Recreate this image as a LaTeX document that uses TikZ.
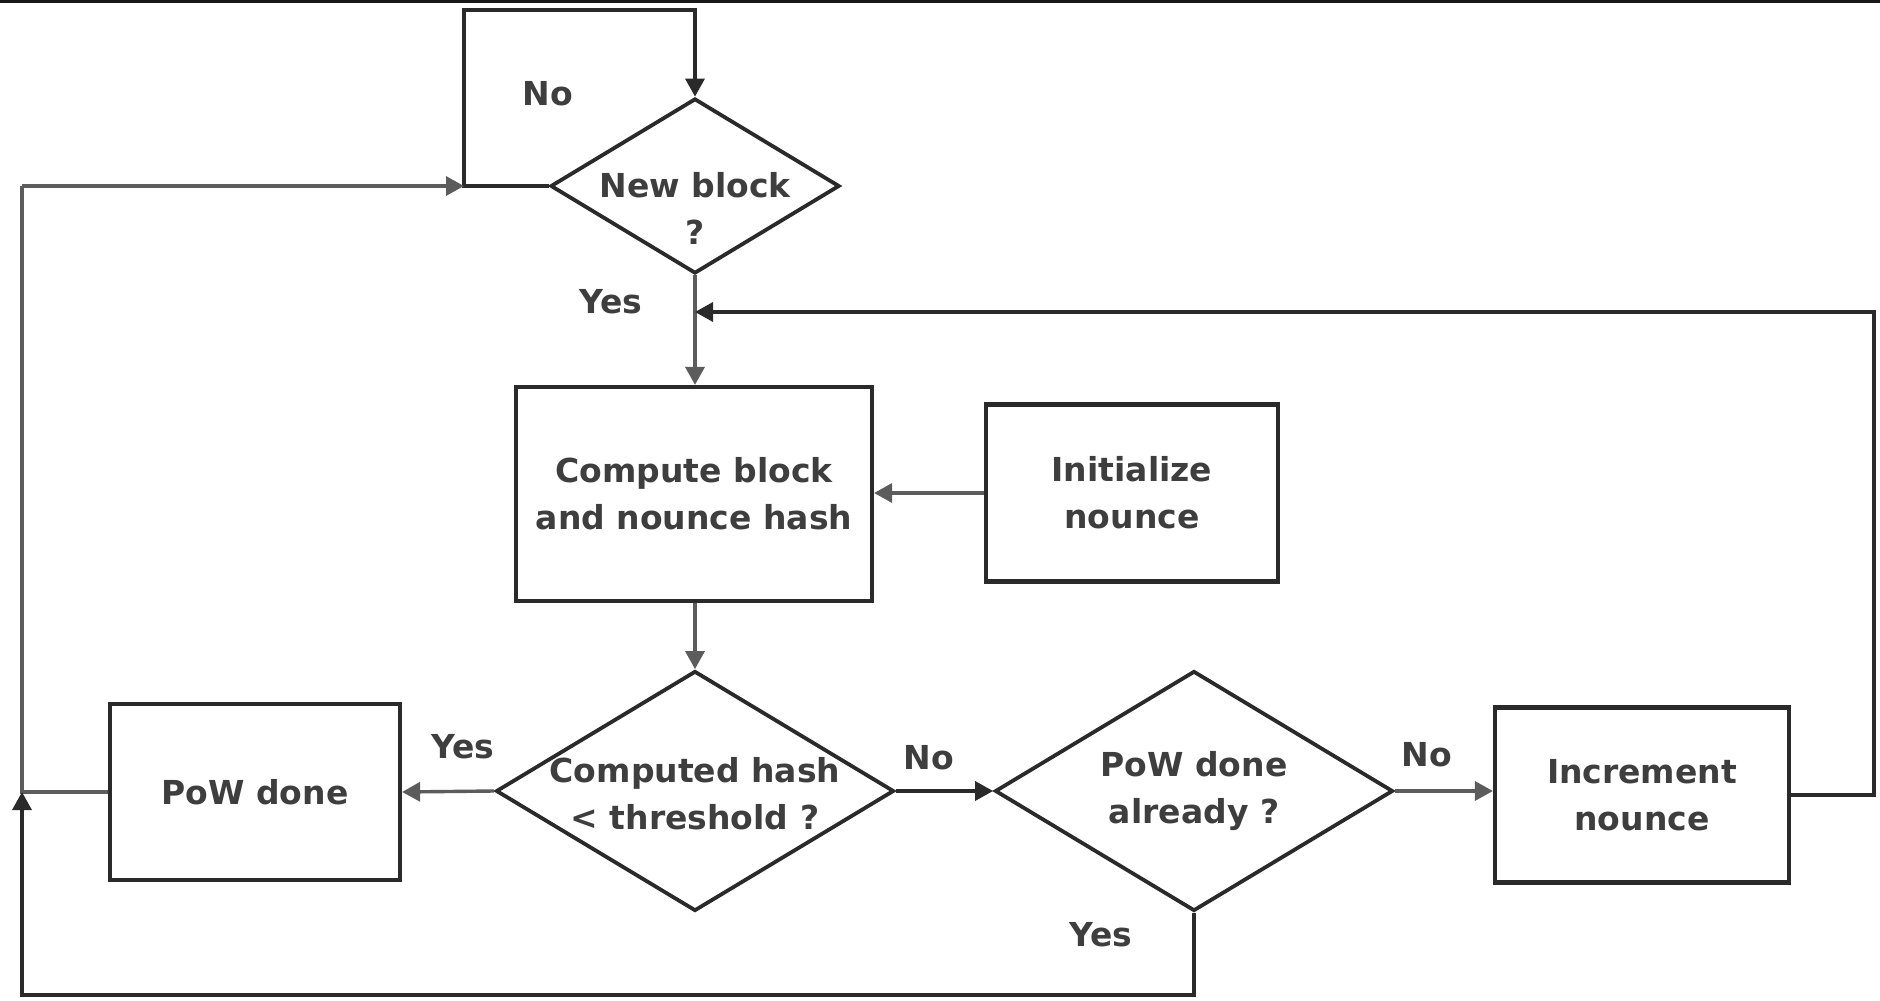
\documentclass[tikz,border=0pt]{standalone}
\usepackage{fontspec}
\setmainfont{DejaVu Sans}
\usetikzlibrary{shapes.geometric,arrows.meta}
\definecolor{ink}{HTML}{2A2A2A}
\definecolor{txt}{HTML}{3E3E3E}
\definecolor{wire}{HTML}{5C5C5C}
\begin{document}
\begin{tikzpicture}[x=0.5pt,y=-0.5pt,
  box/.style={draw=ink, line width=2.1pt, rectangle, inner sep=0pt,
    text=txt, font=\bfseries\fontsize{16.5}{23.5}\selectfont, align=center},
  dia/.style={draw=ink, line width=1.9pt, diamond, inner sep=0pt,
    minimum width=199pt, minimum height=120pt},
  lbl/.style={text=txt, font=\bfseries\fontsize{16.5}{23.5}\selectfont, align=center},
  tag/.style={text=txt, font=\bfseries\fontsize{16.5}{20}\selectfont},
  flow/.style={line width=1.7pt, draw=wire, -{Triangle[length=9pt,width=9.5pt]}},
  darkflow/.style={line width=1.7pt, draw=ink, -{Triangle[length=9pt,width=9.5pt]}},
  plain/.style={line width=1.7pt, draw=wire},
  darkplain/.style={line width=1.7pt, draw=ink}
]
\useasboundingbox (0,0) rectangle (1880,1001);
\fill[white] (0,0) rectangle (1880,1001);
\fill[black!90] (0,0) rectangle (1880,3);

% decisions and process steps
\node[dia, minimum width=144.5pt, minimum height=87.5pt] (nb) at (695,186) {};
\node[lbl] (nbt) at (695,208) {New block\\?};
\node[box, minimum width=178pt, minimum height=107pt] (cb) at (694,494) {Compute block\\and nounce hash};
\node[box, minimum width=146pt, minimum height=88.5pt] (init) at (1132,493) {Initialize\\nounce};
\node[dia] (ch) at (695,791) {};
\node[lbl] (cht) at (695,794) {Computed hash\\< threshold ?};
\node[box, minimum width=145pt, minimum height=88pt] (pow) at (255,792) {PoW done};
\node[dia] (pd) at (1194,791) {};
\node[lbl] (pdt) at (1194,791) {PoW done\\already ?};
\node[box, minimum width=147pt, minimum height=87.5pt] (inc) at (1642,795) {Increment\\nounce};

% routing points
\coordinate (loopL) at (464,186);
\coordinate (loopTL) at (464,10);
\coordinate (join) at (695,312);
\coordinate (railR) at (1874,312);
\coordinate (railL) at (22,186);
\coordinate (railB) at (22,995);

% "No" loop waiting for a new block
\draw[darkflow] (nb.west) -| (loopTL) -| (nb.north);
% return path from PoW done to the wait loop
\draw[plain] (pow.west) -| (railL);
\draw[flow] (railL) -- (loopL);

\draw[flow] (nb.south) -- (nb.south |- cb.north);
\draw[flow] (init.west) -- (init.west -| cb.east);
\draw[flow] (cb.south -| ch.north) -- (ch.north);
\draw[flow] (ch.west) -- (pow.east);
\draw[darkflow] (ch.east) -- (pd.west);
\draw[flow] (pd.east) -- (pd.east -| inc.west);
\draw[darkflow] (inc.east) -| (railR) -- (join);
\draw[darkflow] (pd.south) |- (railB) -- (railB |- pow.west);

% branch labels
\node[tag] (l1) at (548,94) {No};
\node[tag] (l2) at (611,302) {Yes};
\node[tag] (l3) at (463,747) {Yes};
\node[tag] (l4) at (929,758) {No};
\node[tag] (l5) at (1427,755) {No};
\node[tag] (l6) at (1101,935) {Yes};
\end{tikzpicture}
\end{document}
